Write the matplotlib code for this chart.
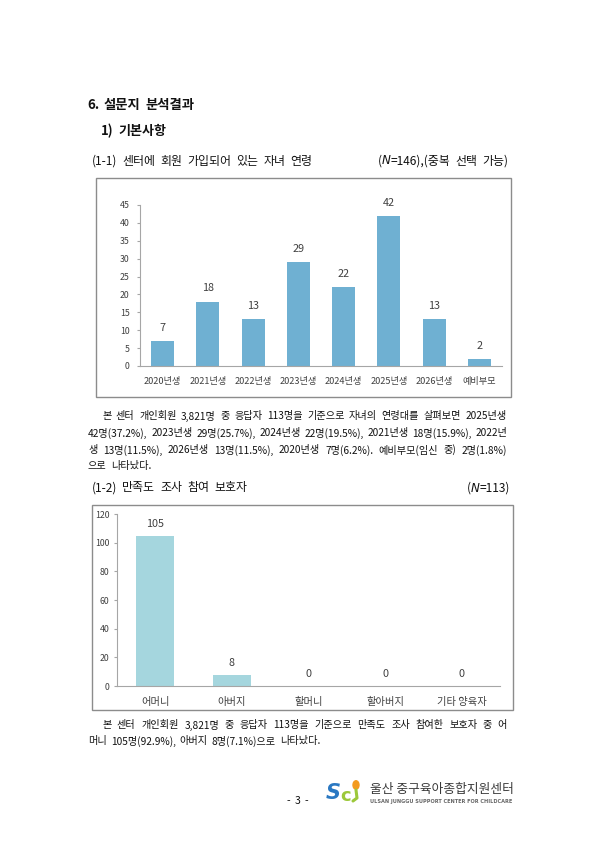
import matplotlib
matplotlib.use("Agg")
import matplotlib.pyplot as plt
from matplotlib.patches import Rectangle, Circle
from matplotlib.lines import Line2D

plt.rcParams["font.family"] = ["Noto Sans CJK KR", "DejaVu Sans"]

# data
ages = ["2020년생", "2021년생", "2022년생", "2023년생", "2024년생", "2025년생", "2026년생", "예비부모"]
age_counts = [7, 18, 13, 29, 22, 42, 13, 2]

guardians = ["어머니", "아버지", "할머니", "할아버지", "기타 양육자"]
guardian_counts = [105, 8, 0, 0, 0]

para1 = [
    "본 센터 개인회원 3,821명 중 응답자 113명을 기준으로 자녀의 연령대를 살펴보면 2025년생",
    "42명(37.2%), 2023년생 29명(25.7%), 2024년생 22명(19.5%), 2021년생 18명(15.9%), 2022년",
    "생 13명(11.5%), 2026년생 13명(11.5%), 2020년생 7명(6.2%). 예비부모(임신 중) 2명(1.8%)",
    "으로 나타났다.",
]
para2 = [
    "본 센터 개인회원 3,821명 중 응답자 113명을 기준으로 만족도 조사 참여한 보호자 중 어",
    "머니 105명(92.9%), 아버지 8명(7.1%)으로 나타났다.",
]

W, H = 600, 849
BODY = 8.6
fig = plt.figure(figsize=(W / 100, H / 100), dpi=100)
r = fig.canvas.get_renderer()


def fx(x):
    return x / W


def fy(y):
    return 1 - y / H


def put(x, y, s, size=BODY, **kw):
    kw.setdefault("color", "#111111")
    return fig.text(fx(x), fy(y), s, fontsize=size, va="center", **kw)


def width(s, size=BODY, **kw):
    t = fig.text(0, 0, s, fontsize=size, **kw)
    w = t.get_window_extent(r).width
    t.remove()
    return w


def natural(s, size, gap):
    words = s.split(" ")
    return sum(width(w, size) for w in words) + gap * (len(words) - 1)


def put_line(s, x0, y, x1=None, size=BODY, gap=5.0, **kw):
    # words placed one by one; with x1 the gaps are stretched (justified)
    words = s.split(" ")
    widths = [width(w, size, **kw) for w in words]
    if x1 is not None and len(words) > 1:
        gap = (x1 - x0 - sum(widths)) / (len(words) - 1)
    x = x0
    for w, wd in zip(words, widths):
        put(x, y, w, size, **kw)
        x += wd + gap
    return x - gap


def put_n(x, y, rest, size=BODY):
    # "(N=...)" with italic N
    put(x, y, "(", size)
    x += width("(", size)
    put(x, y, "N", size, style="italic", family=["DejaVu Sans"])
    x += width("N", size, style="italic", family=["DejaVu Sans"])
    put_line(rest, x, y, size=size)


def box(x0, y0, x1, y1):
    fig.patches.append(Rectangle((fx(x0), fy(y1)), fx(x1 - x0), (y1 - y0) / H,
                                 transform=fig.transFigure, fill=False,
                                 edgecolor="#8c8c8c", lw=1.0))


def style_axes(ax, ypad, xsize):
    for s in ["top", "right"]:
        ax.spines[s].set_visible(False)
    for s in ["left", "bottom"]:
        ax.spines[s].set_color("#a6a6a6")
        ax.spines[s].set_linewidth(0.8)
    ax.tick_params(axis="y", length=2.5, width=0.8, color="#a6a6a6",
                   labelsize=6.3, labelcolor="#404040", pad=ypad)
    ax.tick_params(axis="x", length=0, labelsize=xsize, labelcolor="#404040", pad=8)


# paragraph font: largest size where every justified line keeps gaps >= 3px
checks = [(para1[0], 405), (para1[1], 419), (para1[2], 419), (para2[0], 405)]
PARA = BODY
while any(natural(s, PARA, 3.0) > span for s, span in checks):
    PARA -= 0.1

# headings
put_line("6. 설문지 분석결과", 87, 105, size=9.6, gap=4.5, fontweight="bold")
put_line("1) 기본사항", 101, 131, size=9.4, gap=4.5, fontweight="bold")
put_line("(1-1) 센터에 회원 가입되어 있는 자녀 연령", 92, 161)
put_n(378, 161, "=146),(중복 선택 가능)")

# chart 1
box(96, 178, 511, 397)
ax1 = fig.add_axes([fx(140), fy(366), (502 - 140) / W, (366 - 205) / H])
x1 = range(len(ages))
bars = ax1.bar(x1, age_counts, width=0.51, color="#6fb0d2")
ax1.set_xlim(-0.5, len(ages) - 0.5)
ax1.set_ylim(0, 45)
ax1.set_yticks(range(0, 46, 5))
ax1.set_xticks(list(x1))
ax1.set_xticklabels(ages)
style_axes(ax1, 5, 6.6)
for b, v in zip(bars, age_counts):
    ax1.annotate(str(v), (b.get_x() + b.get_width() / 2, v), xytext=(0, 9.5),
                 textcoords="offset points", ha="center", va="center",
                 fontsize=7.8, color="#404040")

# paragraph 1
put_line(para1[0], 102, 416, 507, size=PARA)
put_line(para1[1], 88, 433, 507, size=PARA)
put_line(para1[2], 88, 450, 507, size=PARA)
put_line(para1[3], 88, 466, size=PARA, gap=4)

put_line("(1-2) 만족도 조사 참여 보호자", 92, 488)
put_n(467, 488, "=113)")

# chart 2
box(92, 505, 513, 710)
ax2 = fig.add_axes([fx(117), fy(686), (500 - 117) / W, (686 - 514) / H])
x2 = range(len(guardians))
bars2 = ax2.bar(x2, guardian_counts, width=0.5, color="#a5d6de")
ax2.set_xlim(-0.5, len(guardians) - 0.5)
ax2.set_ylim(0, 120)
ax2.set_yticks(range(0, 121, 20))
ax2.set_xticks(list(x2))
ax2.set_xticklabels(guardians)
style_axes(ax2, 3, 7.4)
for b, v in zip(bars2, guardian_counts):
    ax2.annotate(str(v), (b.get_x() + b.get_width() / 2, v), xytext=(0, 8.6),
                 textcoords="offset points", ha="center", va="center",
                 fontsize=7.8, color="#404040")

# paragraph 2
put_line(para2[0], 102, 725, 507, size=PARA)
put_line(para2[1], 88, 741, size=PARA, gap=4)

# footer
put_line("- 3 -", 287, 801, size=7.5, gap=4)
put(326, 793, "S", 15, color="#2a78c2", fontweight="bold", style="italic",
    family=["DejaVu Sans"])
put(340, 796, "c", 13, color="#9cc83a", fontweight="bold", family=["DejaVu Sans"])
fig.patches.append(Circle((fx(356), fy(785)), 3 / W, transform=fig.transFigure,
                          color="#f39a1e"))
fig.lines.append(Line2D([fx(356), fx(357), fx(353)], [fy(790), fy(798), fy(801)],
                        transform=fig.transFigure, color="#9cc83a", lw=2.2,
                        solid_capstyle="round"))
put(370, 790, "울산 중구육아종합지원센터", 9.2, color="#3a3a3a")
put(370, 801, "ULSAN JUNGGU SUPPORT CENTER FOR CHILDCARE", 3.6, color="#666666",
    fontweight="bold", family=["DejaVu Sans"])

fig.savefig("out.png", dpi=100)
